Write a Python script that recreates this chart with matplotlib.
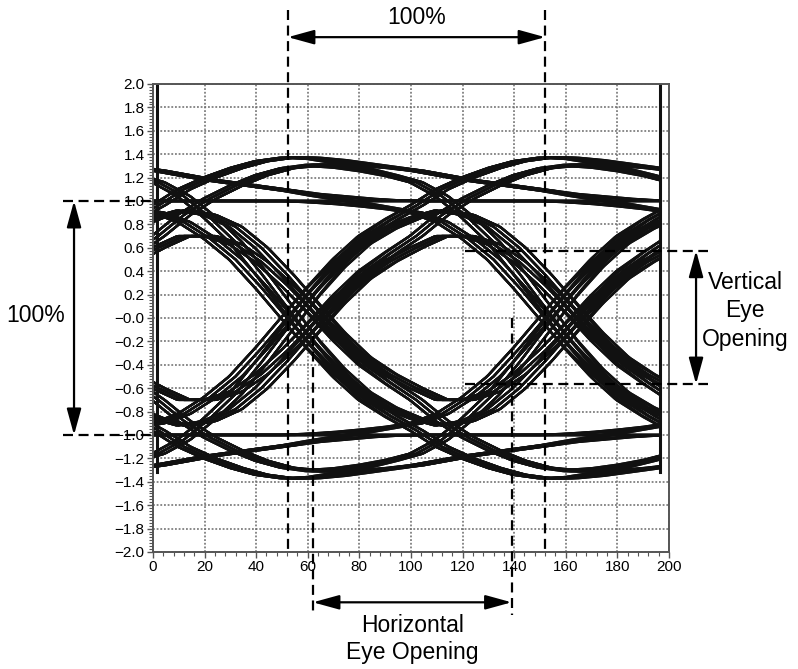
import itertools
import numpy as np
import matplotlib
matplotlib.use("Agg")
import matplotlib.pyplot as plt
from matplotlib.patches import ArrowStyle

plt.rcParams['font.family'] = ['Liberation Sans', 'DejaVu Sans']

# ---- signal description -------------------------------------------------
ui = 100.0                 # unit interval (time units)
first_edge = -148.0        # earliest bit boundary that still affects the window
n_bits = 6                 # bits centred at -198, -98, 2, 102, 202, 302
trace_start, trace_end = 0.0, 197.0

# normalised channel step response (0 -> 1), t measured from the 50 % crossing
step_t = [-100, -90, -80, -70, -60, -50, -40, -30, -20, -10, 0, 10, 20, 30,
          40, 50, 60, 70, 80, 90, 100, 110, 120, 130, 140, 150, 160, 170,
          180, 190, 200, 210, 220, 230, 240, 250]
step_v = [0.0, 0.005, 0.012, 0.022, 0.034, 0.05, 0.09, 0.16, 0.25, 0.37,
          0.5, 0.63, 0.75, 0.85, 0.92, 0.98, 1.05, 1.10, 1.14, 1.17, 1.185,
          1.185, 1.175, 1.16, 1.145, 1.13, 1.11, 1.09, 1.075, 1.06, 1.045,
          1.03, 1.02, 1.01, 1.003, 1.0]

# timing spread of the overlaid acquisitions
jitter = [-2.5, 0.0, 2.5]

# wrap-around retrace lines at both ends of the record
retrace_x = [1.5, 196.5]
retrace_y = [2.0, -1.32]

# ---- axis labelling -----------------------------------------------------
x_ticks = [0, 20, 40, 60, 80, 100, 120, 140, 160, 180, 200]
y_ticks = [2.0, 1.8, 1.6, 1.4, 1.2, 1.0, 0.8, 0.6, 0.4, 0.2, 0.0,
           -0.2, -0.4, -0.6, -0.8, -1.0, -1.2, -1.4, -1.6, -1.8, -2.0]
y_labels = ['2.0', '1.8', '1.6', '1.4', '1.2', '1.0', '0.8', '0.6', '0.4',
            '0.2', '\u22120.0', '\u22120.2', '\u22120.4', '\u22120.6',
            '\u22120.8', '\u22121.0', '\u22121.2', '\u22121.4', '\u22121.6',
            '\u22121.8', '\u22122.0']

# ---- annotation geometry (data units) -----------------------------------
ui_marks = [52.3, 152.0]          # one unit interval = 100 %
amp_levels = [1.0, -1.0]          # full amplitude = 100 %
h_eye = [62.0, 139.0]             # horizontal eye opening
h_eye_tops = [-0.15, 0.0]
v_eye = [0.575, -0.565]           # vertical eye opening

fig = plt.figure(figsize=(7.98, 6.69), dpi=100)
ax = fig.add_axes([0.1917, 0.1749, 0.6466, 0.6996])
ax.set_xlim(0, 200)
ax.set_ylim(-2.0, 2.0)

# grid
ax.set_axisbelow(True)
ax.grid(True, which='major', color='#6a6a6a', lw=1.1, linestyle=(0, (1.2, 1.2)))

# eye traces
st = np.array(step_t, float)
sv = np.array(step_v, float)
x = np.arange(trace_start, trace_end + 0.5, 1.0)
edges = first_edge + ui * np.arange(n_bits - 1)
for bits in itertools.product([-1, 1], repeat=n_bits):
    b = np.array(bits, float)
    for dj in jitter:
        y = np.full_like(x, b[0])
        for k, c in enumerate(edges):
            d = b[k + 1] - b[k]
            if d != 0:
                y += d * np.interp(x - c - dj, st, sv, left=0.0, right=1.0)
        ax.plot(x, y, color='#111111', lw=1.7, solid_capstyle='butt', zorder=2)

for rx in retrace_x:
    ax.plot([rx, rx], retrace_y, color='#111111', lw=2.2, zorder=2)

# axes styling
for sp in ax.spines.values():
    sp.set_color('#555555')
    sp.set_linewidth(1.4)
ax.set_xticks(x_ticks)
ax.set_xticklabels([str(v) for v in x_ticks])
ax.set_yticks(y_ticks)
ax.set_yticklabels(y_labels)
ax.set_xticks(np.arange(0, 201, 4), minor=True)
ax.set_yticks(np.arange(-2.0, 2.0001, 0.025), minor=True)
ax.tick_params(which='major', direction='out', length=4, width=1.0,
               color='#555555', labelsize=11, pad=2)
ax.tick_params(which='minor', direction='out', length=3, width=0.8,
               color='#555555')

# ---- dimension annotations ----------------------------------------------
dash = dict(color='black', lw=1.6, linestyle=(0, (4.5, 2.5)), clip_on=False,
            zorder=5)
arrow = dict(arrowstyle=ArrowStyle('<|-|>', head_length=0.8, head_width=0.22),
             color='black', lw=1.6, mutation_scale=20, shrinkA=0, shrinkB=0)
fs = 16.5

# unit interval (top)
for xm in ui_marks:
    ax.plot([xm, xm], [2.63, -2.0], **dash)
ax.annotate('', xy=(ui_marks[1], 2.40), xytext=(ui_marks[0], 2.40),
            arrowprops=arrow, annotation_clip=False)
ax.text(sum(ui_marks) / 2, 2.57, '100%', ha='center', va='center',
        fontsize=fs, clip_on=False)

# full amplitude (left)
for yl in amp_levels:
    ax.plot([-35.0, 0.0], [yl, yl], **dash)
ax.annotate('', xy=(-30.6, amp_levels[1]), xytext=(-30.6, amp_levels[0]),
            arrowprops=arrow, annotation_clip=False)
ax.text(-45.5, 0.02, '100%', ha='center', va='center', fontsize=fs,
        clip_on=False)

# horizontal eye opening (bottom)
for xm, yt in zip(h_eye, h_eye_tops):
    ax.plot([xm, xm], [yt, -2.54], **dash)
ax.annotate('', xy=(h_eye[1], -2.43), xytext=(h_eye[0], -2.43),
            arrowprops=arrow, annotation_clip=False)
ax.text(sum(h_eye) / 2, -2.745, 'Horizontal\nEye Opening', ha='center',
        va='center', fontsize=fs, linespacing=1.22, clip_on=False)

# vertical eye opening (right)
for yl in v_eye:
    ax.plot([121.0, 215.0], [yl, yl], **dash)
ax.annotate('', xy=(210.5, v_eye[1]), xytext=(210.5, v_eye[0]),
            arrowprops=arrow, annotation_clip=False)
ax.text(229.5, 0.06, 'Vertical\nEye\nOpening', ha='center', va='center',
        fontsize=fs, linespacing=1.3, clip_on=False)

fig.savefig('out.png', dpi=100, facecolor='white')
